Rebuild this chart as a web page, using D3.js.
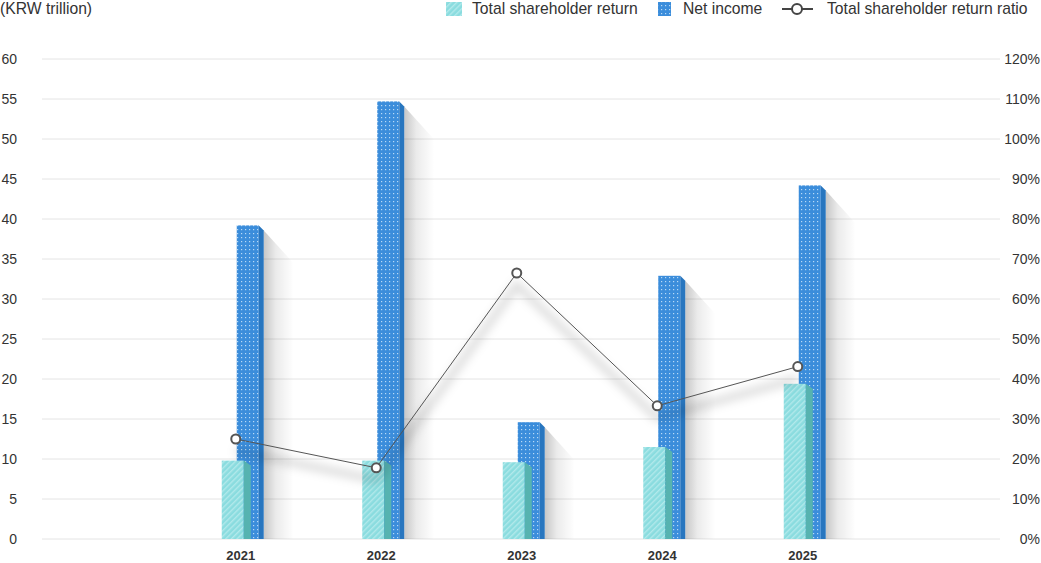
<!DOCTYPE html>
<html>
<head>
<meta charset="utf-8">
<script src="https://cdn.jsdelivr.net/npm/d3@7"></script>
<style>
  html, body { margin: 0; padding: 0; background: #fff; }
  svg text { font-family: "Liberation Sans", Arial, sans-serif; fill: #333; }
</style>
</head>
<body>
<div id="chart"></div>
<script>
// chart values
var years = ['2021', '2022', '2023', '2024', '2025'];
var netIncome = [39.2, 54.7, 14.6, 32.9, 44.2];
var shareholderReturn = [9.8, 9.8, 9.6, 11.5, 19.4];
var returnRatio = [25.0, 17.8, 66.5, 33.3, 43.1];
var leftTicks = [0, 5, 10, 15, 20, 25, 30, 35, 40, 45, 50, 55, 60];
var rightTicks = [0, 10, 20, 30, 40, 50, 60, 70, 80, 90, 100, 110, 120];
var seriesNames = ['Total shareholder return', 'Net income', 'Total shareholder return ratio'];

var width = 1041, height = 563;
var plot = { left: 42, right: 1000, top: 59, bottom: 539 };

var svg = d3.select('#chart').append('svg').attr('width', width).attr('height', height);
var defs = svg.append('defs');

// dotted pattern for net income
var dots = defs.append('pattern').attr('id', 'dots').attr('patternUnits', 'userSpaceOnUse')
    .attr('width', 4).attr('height', 4);
dots.append('rect').attr('width', 4).attr('height', 4).attr('fill', '#3b8ddb');
dots.append('rect').attr('x', 1).attr('y', 1).attr('width', 1.2).attr('height', 1.2).attr('fill', '#b8daf6');

// hatched pattern for shareholder return
var hatch = defs.append('pattern').attr('id', 'hatch').attr('patternUnits', 'userSpaceOnUse')
    .attr('width', 4).attr('height', 4).attr('patternTransform', 'rotate(45)');
hatch.append('rect').attr('width', 4).attr('height', 4).attr('fill', '#8adcdf');
hatch.append('rect').attr('width', 1.4).attr('height', 4).attr('fill', '#b2e9eb');

var shadowGrad = defs.append('linearGradient').attr('id', 'shadowGrad')
    .attr('x1', 0).attr('x2', 1).attr('y1', 0).attr('y2', 0);
shadowGrad.append('stop').attr('offset', 0).attr('stop-color', '#000').attr('stop-opacity', 0.22);
shadowGrad.append('stop').attr('offset', 0.4).attr('stop-color', '#000').attr('stop-opacity', 0.08);
shadowGrad.append('stop').attr('offset', 1).attr('stop-color', '#000').attr('stop-opacity', 0);

var blur = defs.append('filter').attr('id', 'blur').attr('x', '-20%').attr('y', '-50%')
    .attr('width', '140%').attr('height', '200%');
blur.append('feGaussianBlur').attr('stdDeviation', 5);

var y = d3.scaleLinear().domain([0, 60]).range([plot.bottom, plot.top]);
var yR = d3.scaleLinear().domain([0, 120]).range([plot.bottom, plot.top]);
var x = d3.scaleBand().domain(years).range([170.5, 873]);
var cx = function(d) { return x(d) + x.bandwidth() / 2; };

// grid
svg.append('g').selectAll('line').data(leftTicks).enter().append('line')
    .attr('x1', plot.left).attr('x2', plot.right)
    .attr('y1', function(d) { return y(d); }).attr('y2', function(d) { return y(d); })
    .attr('stroke', '#e4e4e4').attr('stroke-width', 1);

// axes
var yAxis = d3.axisLeft(y).tickValues(leftTicks).tickSize(0).tickPadding(0);
svg.append('g').attr('transform', 'translate(17,0)').call(yAxis)
    .call(function(g) { g.select('.domain').remove(); })
    .selectAll('text').style('font-size', '14px').attr('fill', '#3a3a3a');

var yAxisR = d3.axisRight(yR).tickValues(rightTicks).tickSize(0).tickPadding(0)
    .tickFormat(function(d) { return d + '%'; });
svg.append('g').attr('transform', 'translate(1040,0)').call(yAxisR)
    .call(function(g) { g.select('.domain').remove(); })
    .selectAll('text').style('font-size', '14px').attr('text-anchor', 'end').attr('fill', '#3a3a3a');

var xAxis = d3.axisBottom(x).tickSize(0).tickPadding(0);
svg.append('g').attr('transform', 'translate(0,' + 556 + ')').call(xAxis)
    .call(function(g) { g.select('.domain').remove(); })
    .selectAll('text').attr('dy', '0.32em').style('font-size', '13px').style('font-weight', 'bold').attr('fill', '#222');

// net income bars (with shadow and side face)
var ni = svg.append('g').selectAll('g').data(years).enter().append('g');
ni.append('path').attr('fill', 'url(#shadowGrad)').attr('d', function(d, i) {
    var x0 = cx(d) + 23, top = y(netIncome[i]), bot = y(0);
    return 'M' + x0 + ',' + (top + 5) + 'L' + (x0 + 30) + ',' + (top + 38) +
        'L' + (x0 + 30) + ',' + bot + 'L' + x0 + ',' + bot + 'Z';
});
ni.append('rect').attr('fill', 'url(#dots)')
    .attr('x', function(d) { return cx(d) - 4; })
    .attr('y', function(d, i) { return y(netIncome[i]); })
    .attr('width', 22)
    .attr('height', function(d, i) { return y(0) - y(netIncome[i]); });
ni.append('path').attr('fill', '#2876bf').attr('d', function(d, i) {
    var x0 = cx(d) + 18, top = y(netIncome[i]), bot = y(0);
    return 'M' + x0 + ',' + top + 'L' + (x0 + 5) + ',' + (top + 5) +
        'L' + (x0 + 5) + ',' + bot + 'L' + x0 + ',' + bot + 'Z';
});

// shareholder return bars
var sr = svg.append('g').selectAll('g').data(years).enter().append('g');
sr.append('rect').attr('fill', 'url(#hatch)')
    .attr('x', function(d) { return cx(d) - 19; })
    .attr('y', function(d, i) { return y(shareholderReturn[i]); })
    .attr('width', 22)
    .attr('height', function(d, i) { return y(0) - y(shareholderReturn[i]); });
sr.append('path').attr('fill', '#56b3b0').attr('d', function(d, i) {
    var x0 = cx(d) + 3, top = y(shareholderReturn[i]), bot = y(0);
    return 'M' + x0 + ',' + top + 'L' + (x0 + 7) + ',' + (top + 5) +
        'L' + (x0 + 7) + ',' + bot + 'L' + x0 + ',' + bot + 'Z';
});

// ratio line
var line = d3.line()
    .x(function(d, i) { return cx(years[i]) - 5; })
    .y(function(d) { return yR(d); });
svg.append('path').datum(returnRatio).attr('d', line)
    .attr('transform', 'translate(0,12)')
    .attr('fill', 'none').attr('stroke', '#000').attr('stroke-opacity', 0.15)
    .attr('stroke-width', 7).attr('filter', 'url(#blur)');
svg.append('path').datum(returnRatio).attr('d', line)
    .attr('fill', 'none').attr('stroke', '#555').attr('stroke-width', 1);
svg.append('g').selectAll('circle').data(returnRatio).enter().append('circle')
    .attr('cx', function(d, i) { return cx(years[i]) - 5; })
    .attr('cy', function(d) { return yR(d); })
    .attr('r', 4.5).attr('fill', '#fff').attr('stroke', '#555').attr('stroke-width', 2);

// unit label
svg.append('text').attr('x', 0).attr('y', 14).style('font-size', '15.7px').text('(KRW trillion)');

// legend
var lg = svg.append('g');
lg.append('rect').attr('x', 446).attr('y', 2).attr('width', 16).attr('height', 14).attr('fill', 'url(#hatch)');
lg.append('text').attr('x', 472).attr('y', 14).style('font-size', '15.7px').text(seriesNames[0]);
lg.append('rect').attr('x', 658).attr('y', 2).attr('width', 13).attr('height', 14).attr('fill', 'url(#dots)');
lg.append('text').attr('x', 683).attr('y', 14).style('font-size', '15.7px').text(seriesNames[1]);
lg.append('line').attr('x1', 782).attr('x2', 813).attr('y1', 9).attr('y2', 9)
    .attr('stroke', '#444').attr('stroke-width', 2);
lg.append('circle').attr('cx', 797).attr('cy', 9).attr('r', 5)
    .attr('fill', '#fff').attr('stroke', '#444').attr('stroke-width', 2);
lg.append('text').attr('x', 827).attr('y', 14).style('font-size', '15.7px').text(seriesNames[2]);
</script>
</body>
</html>
